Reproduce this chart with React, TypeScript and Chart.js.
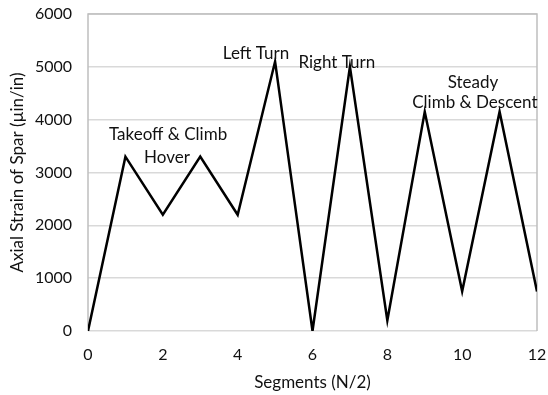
import React, { useEffect, useRef } from "react";
import { Chart, registerables } from "chart.js";

Chart.register(...registerables);

const segments = [0, 1, 2, 3, 4, 5, 6, 7, 8, 9, 10, 11, 12];
const strain = [0, 3300, 2200, 3300, 2200, 5100, 0, 5000, 200, 4150, 750, 4150, 750];

const noteTexts = ["Takeoff & Climb", "Hover", "Left Turn", "Right Turn", "Steady", "Climb & Descent"];
const noteX = [2.14, 2.11, 4.49, 6.65, 10.29, 10.34];
const noteY = [3710, 3290, 5260, 5090, 4710, 4330];

const FONT = "Lato, 'Open Sans', sans-serif";

const notesPlugin = {
  id: "notes",
  afterDatasetsDraw(chart: any) {
    const { ctx, scales } = chart;
    ctx.save();
    ctx.font = `17px ${FONT}`;
    ctx.fillStyle = "#111";
    ctx.textAlign = "center";
    ctx.textBaseline = "middle";
    noteTexts.forEach((t, i) => {
      ctx.fillText(t, scales.x.getPixelForValue(noteX[i]), scales.y.getPixelForValue(noteY[i]));
    });
    ctx.restore();
  },
};

const framePlugin = {
  id: "frame",
  beforeDatasetsDraw(chart: any) {
    const { ctx, chartArea: a } = chart;
    ctx.save();
    ctx.strokeStyle = "#bfbfbf";
    ctx.lineWidth = 1.5;
    ctx.beginPath();
    ctx.moveTo(a.left, a.bottom);
    ctx.lineTo(a.left, a.top);
    ctx.lineTo(a.right, a.top);
    ctx.lineTo(a.right, a.bottom);
    ctx.stroke();
    ctx.restore();
  },
};

export default function App() {
  const ref = useRef<HTMLCanvasElement>(null);
  useEffect(() => {
    const chart = new Chart(ref.current!, {
      type: "line",
      data: {
        datasets: [
          {
            data: segments.map((s, i) => ({ x: s, y: strain[i] })),
            borderColor: "#000",
            borderWidth: 2.5,
            pointRadius: 0,
            tension: 0,
            fill: false,
          },
        ],
      },
      options: {
        animation: false,
        responsive: false,
        layout: { padding: { left: 0, top: 14, right: 11, bottom: 0 } },
        plugins: { legend: { display: false }, tooltip: { enabled: false } },
        scales: {
          x: {
            type: "linear",
            min: 0,
            max: 12,
            ticks: {
              stepSize: 2,
              padding: 14,
              color: "#111",
              font: { family: FONT, size: 16 },
              callback: (v: any) => String(v),
            },
            grid: { display: false, drawTicks: false },
            border: { display: false },
            title: {
              display: true,
              text: "Segments (N/2)",
              color: "#111",
              font: { family: FONT, size: 17 },
              padding: { top: 0, bottom: 2 },
            },
            afterFit(scale: any) {
              scale.height = 64;
              scale.paddingLeft = 0;
              scale.paddingRight = 0;
            },
          },
          y: {
            min: 0,
            max: 6000,
            ticks: {
              stepSize: 1000,
              padding: 16,
              color: "#111",
              font: { family: FONT, size: 16 },
              callback: (v: any) => String(v),
            },
            grid: { color: "#d9d9d9", lineWidth: 1.5, drawTicks: false },
            border: { display: false },
            title: {
              display: true,
              text: "Axial Strain of Spar (µin/in)",
              color: "#111",
              font: { family: FONT, size: 17 },
              padding: { top: 7, bottom: 0 },
            },
            afterFit(scale: any) {
              scale.width = 88;
              scale.paddingTop = 0;
              scale.paddingBottom = 0;
            },
          },
        },
      },
      plugins: [framePlugin, notesPlugin],
    });
    return () => chart.destroy();
  }, []);
  return (
    <div style={{ position: "fixed", left: 0, top: 0, width: 548, height: 395, background: "#fff" }}>
      <canvas ref={ref} width={548} height={395} />
    </div>
  );
}
